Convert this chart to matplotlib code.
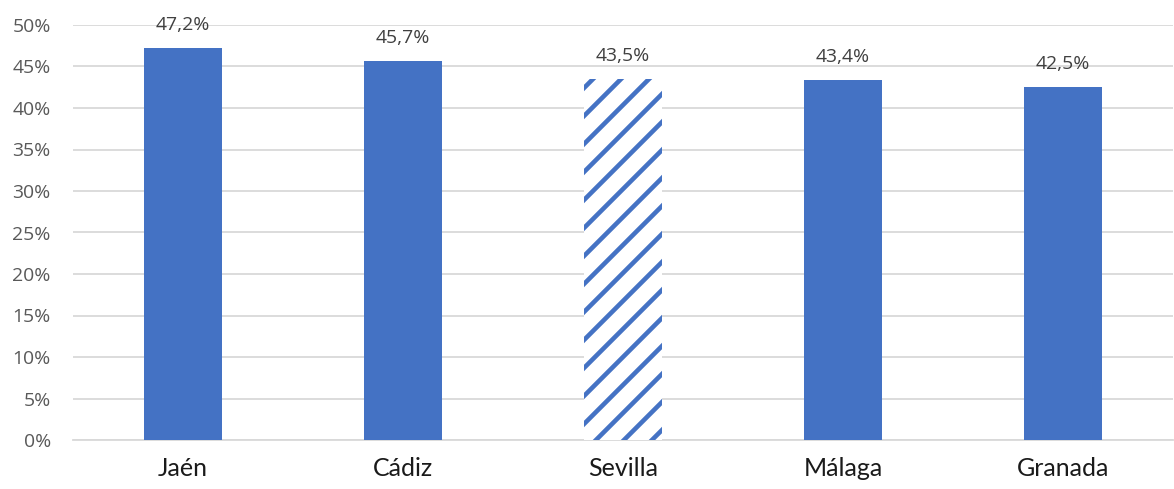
import matplotlib
matplotlib.use("Agg")
import matplotlib.pyplot as plt
from matplotlib.ticker import FuncFormatter

categories = ["Jaén", "Cádiz", "Sevilla", "Málaga", "Granada"]
values = [47.2, 45.7, 43.5, 43.4, 42.5]
labels = ["47,2%", "45,7%", "43,5%", "43,4%", "42,5%"]
hatched = [False, False, True, False, False]

DPI = 84           # hatch unit cell = DPI pixels -> stripes every 14 px
S = 100 / DPI      # scale points so text looks as at 100 dpi
W, H = 1174, 489

blue = "#4472C4"
plt.rcParams["hatch.linewidth"] = 3.3 * S
plt.rcParams["hatch.color"] = blue

fig = plt.figure(figsize=(W / DPI, H / DPI), dpi=DPI)
ax = fig.add_axes([73 / W, 49 / H, 1100 / W, 415 / H])

x = list(range(len(categories)))
for xi, v, h in zip(x, values, hatched):
    if h:
        ax.bar(xi, v, width=0.355, color="white", edgecolor=blue, hatch="/", linewidth=0, zorder=3)
    else:
        ax.bar(xi, v, width=0.355, color=blue, linewidth=0, zorder=3)

for xi, v, lab in zip(x, values, labels):
    ax.annotate(lab, (xi, v), xytext=(0, 18), textcoords="offset pixels",
                ha="center", va="baseline", fontsize=14 * S, color="#404040", family="Open Sans")

ax.set_xlim(-0.5, 4.5)
ax.set_ylim(0, 50)
ax.set_yticks(range(0, 51, 5))
ax.yaxis.set_major_formatter(FuncFormatter(lambda v, p: f"{int(v)}%"))
ax.set_xticks(x)
ax.set_xticklabels(categories, fontsize=18 * S, color="#1a1a1a", family="Lato")
for t in ax.get_yticklabels():
    t.set_fontsize(14 * S)
    t.set_color("#595959")
    t.set_family("Open Sans")
ax.tick_params(axis="both", length=0)
ax.tick_params(axis="y", pad=16 * S)
ax.tick_params(axis="x", pad=12 * S)
ax.grid(axis="y", color="#d9d9d9", linewidth=1.3 * S, zorder=0)
for s in ["top", "right", "left"]:
    ax.spines[s].set_visible(False)
ax.spines["bottom"].set_color("#d9d9d9")
ax.spines["bottom"].set_linewidth(1.3 * S)
ax.set_axisbelow(True)

fig.savefig("out.png", dpi=DPI)
